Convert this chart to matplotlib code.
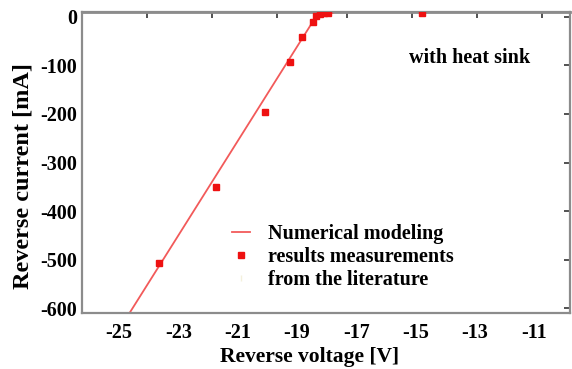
import matplotlib.pyplot as plt
from matplotlib.lines import Line2D

# modelled reverse characteristic
model_v = [-24.75, -18.42, -18.2, -17.95, -17.8]
model_i = [-620, -5, 3, 7, 8]

# measured points from the literature
meas_v = [-23.65, -21.73, -20.08, -19.24, -18.84, -18.47, -18.37, -18.23, -18.1, -17.96, -14.8]
meas_i = [-507, -350, -196, -93, -41, -11, 2, 5, 7, 8, 7]

x_ticks = [-25, -23, -21, -19, -17, -15, -13, -11]
y_ticks = [0, -100, -200, -300, -400, -500, -600]
top_ticks = [-24.06, -21.87, -19.68, -17.32, -15.13, -12.94, -10.75]

plt.rcParams['font.family'] = ['Liberation Serif', 'DejaVu Serif']
plt.rcParams['font.weight'] = 'bold'

fig = plt.figure(figsize=(5.72, 3.69), dpi=100)
ax = fig.add_axes([82 / 572, 1 - 313 / 369, 488 / 572, 301 / 369])

ax.plot(model_v, model_i, color='#f25a5a', lw=1.3, zorder=2)
ax.plot(meas_v, meas_i, ls='none', marker='s', ms=4.5, color='#ee1111',
        mec='#ee1111', zorder=3)

ax.set_xlim(-26.25, -9.8)
ax.set_ylim(-610, 10)
ax.set_xticks(x_ticks)
ax.set_yticks(y_ticks)
ax.set_xticklabels([str(v) for v in x_ticks], fontsize=14.5, fontweight='bold')
ax.set_yticklabels([str(v) for v in y_ticks], fontsize=14.5, fontweight='bold')

ax.tick_params(axis='x', bottom=False, top=False, pad=4)
ax.tick_params(axis='y', left=False, right=True, direction='in', length=4,
               width=1.2, color='#333333', pad=3.5)

top = ax.secondary_xaxis('top')
top.set_xticks(top_ticks)
top.tick_params(direction='in', length=4, width=1.2, color='#333333',
                labeltop=False)
top.spines['top'].set_color('#8c8c8c')
top.spines['top'].set_linewidth(2)

for side in ['left', 'right', 'bottom', 'top']:
    ax.spines[side].set_color('#8c8c8c')
    ax.spines[side].set_linewidth(1.6)

ax.set_xlabel('Reverse voltage [V]', fontsize=15.5, fontweight='bold')
ax.xaxis.set_label_coords(0.467, -0.113)
ax.set_ylabel('Reverse current [mA]', fontsize=17.5, fontweight='bold')
ax.yaxis.set_label_coords(-0.100, 0.455)

ax.text(0.795, 0.847, 'with heat sink', transform=ax.transAxes,
        fontsize=14.5, fontweight='bold', ha='center', va='center')

handles = [
    Line2D([], [], color='#f25a5a', lw=1.3),
    Line2D([], [], ls='none', marker='s', ms=4.5, color='#ee1111'),
    Line2D([], [], ls='none', marker='|', ms=4, color='#f4f0dc'),
]
labels = ['Numerical modeling', 'results measurements', 'from the literature']
ax.legend(handles, labels, loc='upper left', bbox_to_anchor=(0.307, 0.296),
          frameon=False, handlelength=0.9, handletextpad=0.9,
          labelspacing=0.15, borderpad=0, borderaxespad=0,
          prop={'weight': 'bold', 'size': 14.5})

fig.savefig('out.png', dpi=100)
